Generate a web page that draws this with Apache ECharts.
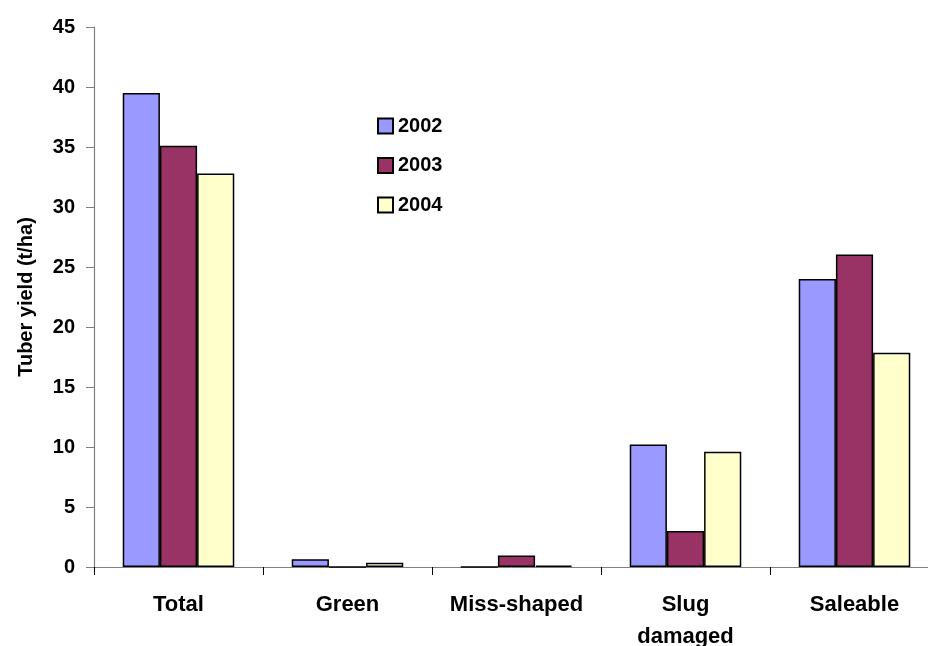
<!DOCTYPE html>
<html>
<head>
<meta charset="utf-8">
<script src="https://cdn.jsdelivr.net/npm/echarts@6/dist/echarts.min.js"></script>
<style>
html,body{margin:0;padding:0;background:#fff;overflow:hidden;}
#chart{width:928px;height:646px;}
</style>
</head>
<body>
<div id="chart"></div>
<script>
var categories = ['Total', 'Green', 'Miss-shaped', 'Slug\ndamaged', 'Saleable'];
var seriesNames = ['2002', '2003', '2004'];
var values2002 = [39.5, 0.65, 0, 10.2, 24.0];
var values2003 = [35.1, 0, 0.95, 3.0, 26.05];
var values2004 = [32.8, 0.35, 0.12, 9.6, 17.85];
var yTicks = [0, 5, 10, 15, 20, 25, 30, 35, 40, 45];
var colors = ['#9999FF', '#993366', '#FFFFCC'];

var font = 'Liberation Sans, Arial, sans-serif';
var chart = echarts.init(document.getElementById('chart'), null, {renderer: 'canvas'});
var data = [values2002, values2003, values2004];
var series = seriesNames.map(function (n, i) {
  return {
    name: n,
    type: 'bar',
    data: data[i],
    barGap: '0%',
    barCategoryGap: '34%',
    itemStyle: {color: colors[i], borderColor: '#000', borderWidth: 1.5},
    emphasis: {disabled: true}
  };
});
chart.setOption({
  animation: false,
  backgroundColor: '#fff',
  textStyle: {fontFamily: font},
  grid: {left: 94, width: 845, top: 27, bottom: 79, containLabel: false, outerBoundsMode: 'none'},
  legend: {
    orient: 'vertical',
    left: 377,
    top: 116,
    padding: 0,
    icon: 'rect',
    itemWidth: 15,
    itemHeight: 15,
    itemGap: 19.5,
    data: seriesNames,
    textStyle: {fontFamily: font, fontWeight: 'bold', fontSize: 20, color: '#000', lineHeight: 20}
  },
  xAxis: {
    type: 'category',
    data: categories,
    axisLine: {lineStyle: {color: '#808080', width: 1}},
    axisTick: {show: true, length: 8, alignWithLabel: false, lineStyle: {color: '#000'}},
    axisLabel: {fontFamily: font, fontWeight: 'bold', fontSize: 22, color: '#000', lineHeight: 32, margin: 22, interval: 0}
  },
  yAxis: {
    type: 'value',
    min: yTicks[0],
    max: yTicks[yTicks.length - 1],
    interval: 5,
    name: 'Tuber yield (t/ha)',
    nameLocation: 'middle',
    nameGap: 58,
    nameRotate: 90,
    nameTextStyle: {fontFamily: font, fontWeight: 'bold', fontSize: 20, color: '#000'},
    axisLine: {show: true, lineStyle: {color: '#808080', width: 1.2}},
    axisTick: {show: true, length: 8, lineStyle: {color: '#808080'}},
    axisLabel: {fontFamily: font, fontWeight: 'bold', fontSize: 20, color: '#000', margin: 19},
    splitLine: {show: false}
  },
  series: series
});
</script>
</body>
</html>
